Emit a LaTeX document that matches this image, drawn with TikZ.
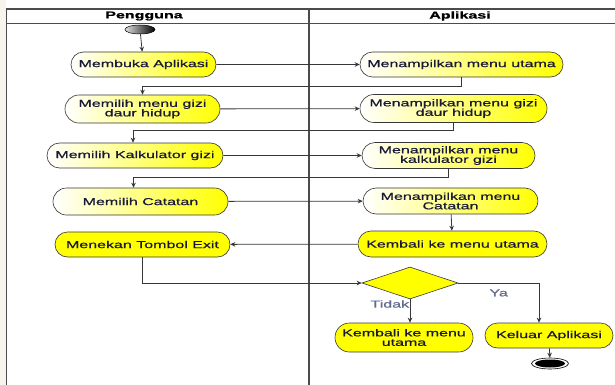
\documentclass[tikz,border=0pt]{standalone}
\usepackage{fontspec}
\setmainfont{Liberation Sans}
\newfontfamily\diagfont[FakeStretch=1.6,FakeBold=0.8]{Liberation Sans}
\usetikzlibrary{shapes.misc,shapes.geometric,arrows.meta}

\definecolor{actyellow}{RGB}{255,255,0}
\definecolor{lanegray}{RGB}{75,75,75}
\definecolor{flowgray}{RGB}{55,55,55}
\definecolor{txtdark}{RGB}{25,25,55}
\definecolor{guardblue}{RGB}{95,105,140}
\definecolor{sidebeige}{RGB}{247,244,237}

\tikzset{
  act/.style={rounded rectangle, draw=flowgray, line width=0.6pt, inner sep=0pt,
    align=center, text=txtdark, font=\diagfont\fontsize{10}{9.5}\selectfont},
  softact/.style={act, left color=white, right color=actyellow},
  solidact/.style={act, fill=actyellow},
  flow/.style={draw=flowgray, line width=0.8pt, -{Stealth[length=5pt,width=4.5pt]}},
  lane/.style={draw=lanegray, line width=1.2pt},
  lanetitle/.style={font=\diagfont\bfseries\fontsize{10}{10}\selectfont, text=black},
  guard/.style={font=\diagfont\fontsize{10}{10}\selectfont, text=guardblue, inner sep=0pt}
}

\begin{document}
\begin{tikzpicture}[x=1pt, y=-1pt]
  \useasboundingbox (0,0) rectangle (615,385);
  \fill[white] (0,0) rectangle (615,385);
  \fill[sidebeige] (0,0) rectangle (6,385);

  % swimlane frame
  \draw[lane] (615,9) -- (6.5,9) -- (6.5,385);
  \draw[lane] (6.5,23.5) -- (615,23.5);
  \draw[lane] (309,9) -- (309,385);
  \node[lanetitle] (pengguna) at (144,16) {Pengguna};
  \node[lanetitle] (aplikasi) at (460,16) {Aplikasi};

  % initial node
  \node[ellipse, minimum width=30pt, minimum height=9pt, inner sep=0pt,
        left color=gray!25, right color=black, draw=black, line width=0.5pt] (start) at (140,29.5) {};

  % activities
  \node[softact, minimum width=145pt, minimum height=25pt] (membuka) at (143.5,64.5) {Membuka Aplikasi};
  \node[softact, minimum width=203pt, minimum height=25pt] (menutama) at (461.5,64.5) {Menampilkan menu utama};
  \node[softact, minimum width=155pt, minimum height=28pt] (memgizi) at (142.5,109) {Memilih menu gizi\\daur hidup};
  \node[softact, minimum width=187pt, minimum height=28pt] (mengizi) at (453.5,108.5) {Menampilkan menu gizi\\daur hidup};
  \node[softact, minimum width=176pt, minimum height=25pt] (memkalk) at (135,155.5) {Memilih Kalkulator gizi};
  \node[softact, minimum width=173pt, minimum height=26pt] (menkalk) at (448.5,155.5) {Menampilkan menu\\kalkulator gizi};
  \node[softact, minimum width=175pt, minimum height=27pt] (memcat) at (140.5,201.5) {Memilih Catatan};
  \node[softact, minimum width=175pt, minimum height=26pt] (mencat) at (450.5,201) {Menampilkan menu\\Catatan};
  \node[solidact, minimum width=189pt, minimum height=26pt] (kembali) at (452.5,244) {Kembali ke menu utama};
  \node[solidact, minimum width=175pt, minimum height=25pt] (menekan) at (142.5,244.5) {Menekan Tombol Exit};
  \node[diamond, draw=flowgray, line width=0.6pt, fill=actyellow, inner sep=0pt,
        minimum width=96pt, minimum height=32pt] (keputusan) at (410,283) {};
  \node[solidact, minimum width=138pt, minimum height=29pt] (kembalidua) at (404,337.5) {Kembali ke menu\\utama};
  \node[solidact, minimum width=128pt, minimum height=25pt] (keluar) at (549,335.5) {Keluar Aplikasi};

  % final node
  \node[ellipse, minimum width=37pt, minimum height=11pt, inner sep=0pt,
        draw=black, fill=white, line width=0.6pt] (akhir) at (550,363.5) {};
  \fill[black] (akhir.center) ellipse [x radius=15pt, y radius=4pt];

  % control flow
  \draw[flow] (start) -- (membuka);
  \draw[flow] (membuka) -- (menutama);
  \draw[flow] (menutama.south) -- ++(0,9) -| (memgizi.north);
  \draw[flow] (memgizi) -- (mengizi);
  \draw[flow] (mengizi.south) -- ++(0,8) -| ([xshift=-2pt]memkalk.north);
  \draw[flow] (memkalk) -- (menkalk);
  \draw[flow] (menkalk.south) -- ++(0,9) -| ([xshift=-7pt]memcat.north);
  \draw[flow] (memcat) -- (mencat);
  \draw[flow] (mencat) -- (kembali);
  \draw[flow] (kembali) -- (menekan);
  \draw[flow] (menekan.south) |- (keputusan.west);
  \draw[flow] (keputusan.south) -- (keputusan.south |- kembalidua.north)
     node[guard, pos=0.2, left=0.5pt] {Tidak};
  \draw[flow] (keputusan.east) -| ([xshift=-10pt]keluar.north)
     node[guard, pos=0.25, below=6pt] {Ya};
  \draw[flow] (keluar) -- (akhir);
\end{tikzpicture}
\end{document}
